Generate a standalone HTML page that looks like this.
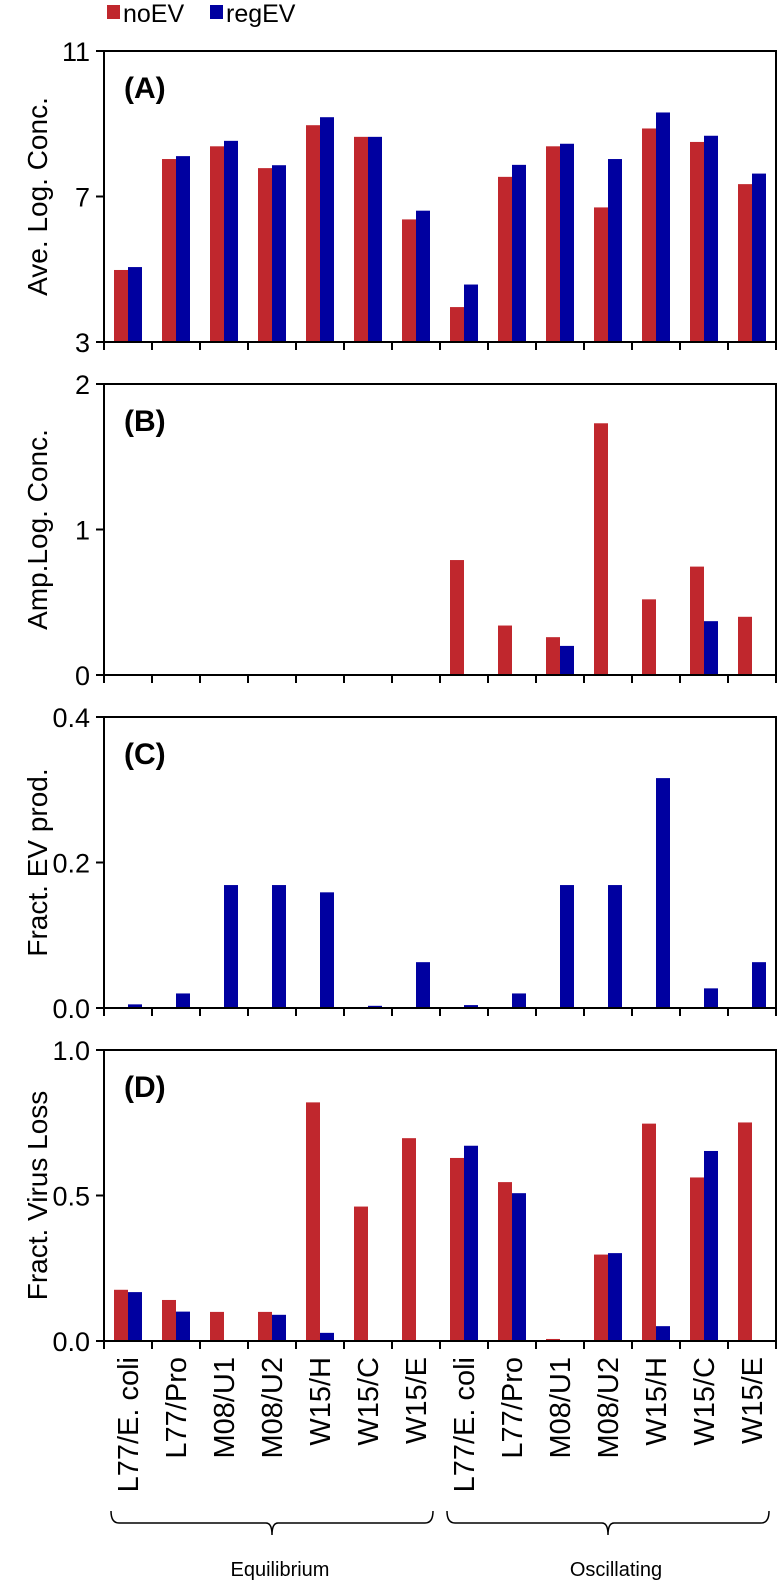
<!DOCTYPE html>
<html><head><meta charset="utf-8">
<style>
html,body{margin:0;padding:0;background:#fff;}
svg{display:block;font-family:"Liberation Sans",Arial,sans-serif;}
</style></head>
<body>
<svg id="chart" width="780" height="1583" viewBox="0 0 780 1583" xmlns="http://www.w3.org/2000/svg">
  <g>
    <rect x="107" y="5" width="13" height="14" fill="#c0272d"/>
    <text x="123" y="22" font-size="25">noEV</text>
    <rect x="210" y="5" width="13" height="14" fill="#0000a0"/>
    <text x="226" y="22" font-size="25">regEV</text>
  </g>
</svg>
<script>
const categories = ["L77/E. coli","L77/Pro","M08/U1","M08/U2","W15/H","W15/C","W15/E","L77/E. coli","L77/Pro","M08/U1","M08/U2","W15/H","W15/C","W15/E"];
const aNoEV  = [4.98,8.03,8.38,7.78,8.96,8.64,6.37, 3.96,7.54,8.38,6.70,8.87,8.50,7.34];
const aRegEV = [5.06,8.11,8.53,7.86,9.18,8.64,6.61, 4.58,7.87,8.45,8.03,9.31,8.67,7.63];
const bNoEV  = [0.005,0,0,0,0,0,0, 0.79,0.34,0.26,1.73,0.52,0.745,0.40];
const bRegEV = [0,0,0,0,0,0,0, 0,0,0.20,0,0,0.37,0];
const cNoEV  = [0,0,0,0,0,0,0, 0,0,0,0,0,0,0];
const cRegEV = [0.005,0.02,0.169,0.169,0.159,0.003,0.063, 0.004,0.02,0.169,0.169,0.316,0.027,0.063];
const dNoEV  = [0.176,0.141,0.10,0.10,0.82,0.462,0.697, 0.629,0.546,0.007,0.297,0.747,0.562,0.751];
const dRegEV = [0.168,0.101,0,0.09,0.028,0,0, 0.671,0.508,0,0.302,0.051,0.653,0];
const aTicks = ["3","7","11"];
const bTicks = ["0","1","2"];
const cTicks = ["0.0","0.2","0.4"];
const dTicks = ["0.0","0.5","1.0"];
const groupNames = ["Equilibrium","Oscillating"];

const NS = "http://www.w3.org/2000/svg";
const svg = document.getElementById("chart");
const X0 = 104, GW = 48, BW = 14, PH = 291;
function xScale(i){ return X0 + i*GW; }
function mk(tag, attrs, parent){
  const e = document.createElementNS(NS, tag);
  for (const k in attrs) e.setAttribute(k, attrs[k]);
  (parent||svg).appendChild(e);
  return e;
}
const panels = [
  {key:"a", top:51, min:3, max:11, ticks:aTicks, red:aNoEV, blue:aRegEV, title:"Ave. Log. Conc.", label:"(A)"},
  {key:"b", top:384, min:0, max:2, ticks:bTicks, red:bNoEV, blue:bRegEV, title:"Amp.Log. Conc.", label:"(B)"},
  {key:"c", top:717, min:0, max:0.4, ticks:cTicks, red:cNoEV, blue:cRegEV, title:"Fract. EV prod.", label:"(C)"},
  {key:"d", top:1050, min:0, max:1, ticks:dTicks, red:dNoEV, blue:dRegEV, title:"Fract. Virus Loss", label:"(D)"}
];
panels.forEach(p => {
  const g = mk("g", {});
  
  
  const bottom = p.top + PH;
  const y = v => bottom - (v - p.min) / (p.max - p.min) * PH;
  for (let i = 0; i < categories.length; i++) {
    const xl = xScale(i) + 10;
    if (p.red[i] > p.min) {
      const r = mk("rect", {x: xl, y: y(p.red[i]), width: BW, height: bottom - y(p.red[i]), fill: "#c0272d"}, g);
      
      
    }
    if (p.blue[i] > p.min) {
      const b = mk("rect", {x: xl + BW, y: y(p.blue[i]), width: BW, height: bottom - y(p.blue[i]), fill: "#0000a0"}, g);
      
      
    }
  }
  const fr = mk("rect", {x: X0, y: p.top, width: GW*14, height: PH, fill: "none", stroke: "#000", "stroke-width": 2}, g);
  
  
  p.ticks.forEach(t => {
    const yy = y(parseFloat(t));
    mk("line", {x1: X0-8, x2: X0, y1: yy, y2: yy, stroke: "#000", "stroke-width": 2}, g);
    const tl = mk("text", {x: X0-14, y: yy+10, "font-size": 27, "text-anchor": "end"}, g);
    tl.textContent = t;
    
    
  });
  for (let i = 0; i <= 14; i++) {
    mk("line", {x1: xScale(i), x2: xScale(i), y1: bottom, y2: bottom+8, stroke: "#000", "stroke-width": 2}, g);
  }
  const cy = p.top + PH/2;
  const tt = mk("text", {x: 0, y: 0, "font-size": 28, "text-anchor": "middle", transform: "translate(47," + cy + ") rotate(-90)"}, g);
  tt.textContent = p.title;
  
  
  const pl = mk("text", {x: 124, y: p.top + 47, "font-size": 30, "font-weight": "bold"}, g);
  pl.textContent = p.label;
  
  
});
for (let i = 0; i < categories.length; i++) {
  const cx = xScale(i) + GW/2 + 10;
  const t = mk("text", {x: 0, y: 0, "font-size": 29, "text-anchor": "end", transform: "translate(" + cx + ",1357) rotate(-90)"});
  t.textContent = categories[i];
  
  
}
groupNames.forEach((name, gi) => {
  const x1 = xScale(gi*7) + 7, x2 = xScale(gi*7 + 7) - 7, xm = (x1 + x2) / 2;
  const br = mk("path", {d: "M" + x1 + " 1511 Q" + x1 + " 1523 " + (x1+8) + " 1523 L" + (xm-6) + " 1523 Q" + xm + " 1523 " + xm + " 1535 Q" + xm + " 1523 " + (xm+6) + " 1523 L" + (x2-8) + " 1523 Q" + x2 + " 1523 " + x2 + " 1511",
    fill: "none", stroke: "#000", "stroke-width": 1.5});
  
  
  const gt = mk("text", {x: xm + 8, y: 1576, "font-size": 20, "text-anchor": "middle"});
  gt.textContent = name;
  
  
});
</script>
</body></html>
